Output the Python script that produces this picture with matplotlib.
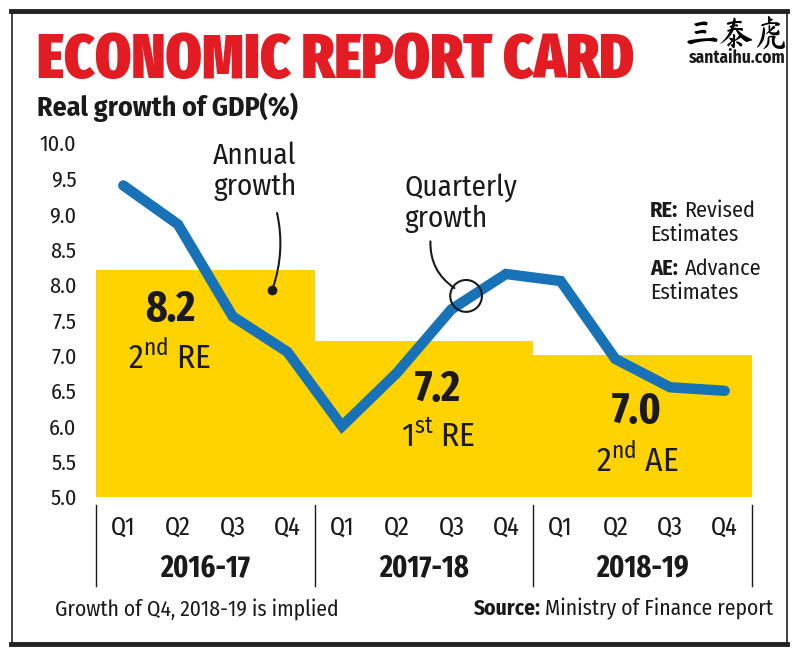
import matplotlib
matplotlib.use("Agg")
import matplotlib.pyplot as plt
from matplotlib.lines import Line2D
from matplotlib.patches import Ellipse
import matplotlib.transforms as mtransforms

# ---------------- data ----------------
quarters = ["Q1", "Q2", "Q3", "Q4"] * 3
years = ["2016-17", "2017-18", "2018-19"]
quarterly_growth = [9.4, 8.85, 7.55, 7.05, 6.0, 6.75, 7.65, 8.15, 8.05, 6.95, 6.55, 6.5]
annual_growth = [8.2, 7.2, 7.0]
annual_notes = ["2$^{\\rm nd}$ RE", "1$^{\\rm st}$ RE", "2$^{\\rm nd}$ AE"]
yticks = [5.0, 5.5, 6.0, 6.5, 7.0, 7.5, 8.0, 8.5, 9.0, 9.5, 10.0]

BODY = ["Fira Sans Condensed", "DejaVu Sans"]
NARROW = ["Fira Sans Extra Condensed", "DejaVu Sans"]
plt.rcParams["font.family"] = BODY
plt.rcParams["mathtext.fontset"] = "custom"
plt.rcParams["mathtext.rm"] = "Fira Sans Condensed"

W, H = 800, 655
fig = plt.figure(figsize=(W / 100, H / 100), dpi=100)
fig.patch.set_facecolor("white")

def fx(px):
    return px / W

def fy(py):
    return 1 - py / H

# plot area: x 96..752, y 143 (10.0) .. 497 (5.0)
ax = fig.add_axes([fx(96), fy(497), (752 - 96) / W, (497 - 143) / H])
ax.set_xlim(0, 12)
ax.set_ylim(5, 10)
for s in ax.spines.values():
    s.set_visible(False)

YELLOW = "#FFD300"
BLUE = "#1872B8"
DARK = "#1a1a1a"

# annual bars
for i, v in enumerate(annual_growth):
    ax.bar(i * 4, v - 5, width=4, bottom=5, align="edge", color=YELLOW, zorder=1)

# quarterly line
xs = [i + 0.5 for i in range(len(quarterly_growth))]
ax.plot(xs, quarterly_growth, color=BLUE, lw=7.5, solid_capstyle="round",
        solid_joinstyle="miter", zorder=3)

# ticks
ax.set_yticks(yticks)
ax.set_yticklabels([f"{t:.1f}" for t in yticks], fontsize=16, color=DARK)
ax.set_xticks(xs)
ax.set_xticklabels(quarters, fontsize=19, color=DARK, family=NARROW)
ax.tick_params(axis="y", length=0, pad=14)
ax.tick_params(axis="x", length=0, pad=13)

# separators and year labels
trans = mtransforms.blended_transform_factory(ax.transData, ax.transAxes)
for xsep in [0, 4, 8, 12]:
    ax.add_line(Line2D([xsep, xsep], [-0.022, -0.25], transform=trans,
                       color=DARK, lw=1.0, clip_on=False))
for i, yl in enumerate(years):
    ax.text(i * 4 + 2, -0.2, yl, transform=trans, ha="center", va="center",
            fontsize=22, fontweight="bold", color=DARK, family=NARROW)

# annual value labels
label_pos = [(1.35, 7.65, 6.97), (6.25, 6.52, 5.85), (9.9, 6.2, 5.52)]
for (lx, y1, y2), v, note in zip(label_pos, annual_growth, annual_notes):
    ax.text(lx, y1, f"{v:.1f}", ha="center", va="center", fontsize=32,
            fontweight="bold", color=DARK, zorder=4, family=NARROW)
    ax.text(lx, y2, note, ha="center", va="center", fontsize=24,
            color=DARK, zorder=4)

# annotations
ax.text(2.9, 9.6, "Annual\ngrowth", ha="center", va="center", fontsize=21,
        color=DARK, linespacing=1.1)
ax.annotate("", xy=(3.22, 7.92), xytext=(3.3, 9.05),
            arrowprops=dict(arrowstyle="-", color=DARK, lw=1.5,
                            connectionstyle="arc3,rad=-0.15"))
ax.plot([3.22], [7.92], "o", color=DARK, ms=6, zorder=5)

ax.text(5.65, 9.15, "Quarterly\ngrowth", ha="left", va="center", fontsize=21,
        color=DARK, linespacing=1.1)
ax.add_patch(Ellipse((6.77, 7.84), 0.58, 0.45, fill=False, ec=DARK, lw=1.5, zorder=5))
ax.annotate("", xy=(6.6, 7.93), xytext=(6.12, 8.65),
            arrowprops=dict(arrowstyle="-", color=DARK, lw=1.5,
                            connectionstyle="arc3,rad=0.3"))

# legend notes
fig.text(fx(650), fy(211), "RE:", fontsize=16, fontweight="bold", color=DARK,
         ha="left", va="center")
fig.text(fx(684), fy(211), "Revised", fontsize=16, color=DARK, ha="left", va="center")
fig.text(fx(650), fy(235), "Estimates", fontsize=16, color=DARK, ha="left", va="center")
fig.text(fx(650), fy(269), "AE:", fontsize=16, fontweight="bold", color=DARK,
         ha="left", va="center")
fig.text(fx(685), fy(269), "Advance", fontsize=16, color=DARK, ha="left", va="center")
fig.text(fx(650), fy(293), "Estimates", fontsize=16, color=DARK, ha="left", va="center")

# title & subtitle
fig.text(fx(37), fy(61), "ECONOMIC REPORT CARD", fontsize=45, fontweight=900,
         color="#E31B23", ha="left", va="center", family=NARROW)
fig.text(fx(37), fy(107), "Real growth of GDP(%)", fontsize=20, fontweight="bold",
         color=DARK, ha="left", va="center", family=BODY)

# logo
fig.text(fx(737), fy(33), "三泰虎", fontsize=25, fontweight="bold", color="black",
         ha="center", va="center",
         family=["Ma Shan Zheng", "Zhi Mang Xing", "Noto Sans CJK SC", "DejaVu Sans"])
fig.text(fx(737), fy(58), "santaihu.com", fontsize=12.5, fontweight="bold",
         color=DARK, ha="center", va="center", family=BODY)

# footer
fig.text(fx(55), fy(609), "Growth of Q4, 2018-19 is implied", fontsize=15.5,
         color=DARK, ha="left", va="center", family=BODY)
src = fig.text(fx(773), fy(609), "Ministry of Finance report", fontsize=15.5,
               color=DARK, ha="right", va="center", family=BODY)
fig.canvas.draw()
bb = src.get_window_extent()
fig.text(bb.x0 - 4, bb.y0 + bb.height / 2, "Source:", fontsize=15.5, fontweight="bold",
         color=DARK, ha="right", va="center", family=BODY, transform=None)

# frame
fig.add_artist(Line2D([fx(11), fx(787)], [fy(11), fy(11)], color="#222222", lw=3.5))
fig.add_artist(Line2D([fx(11), fx(787)], [fy(644), fy(644)], color="#222222", lw=3.5))
fig.add_artist(Line2D([fx(11.5), fx(11.5)], [fy(11), fy(644)], color="#222222", lw=1.2))
fig.add_artist(Line2D([fx(787), fx(787)], [fy(11), fy(644)], color="#222222", lw=1.2))

fig.savefig("out.png", dpi=100, facecolor="white")
